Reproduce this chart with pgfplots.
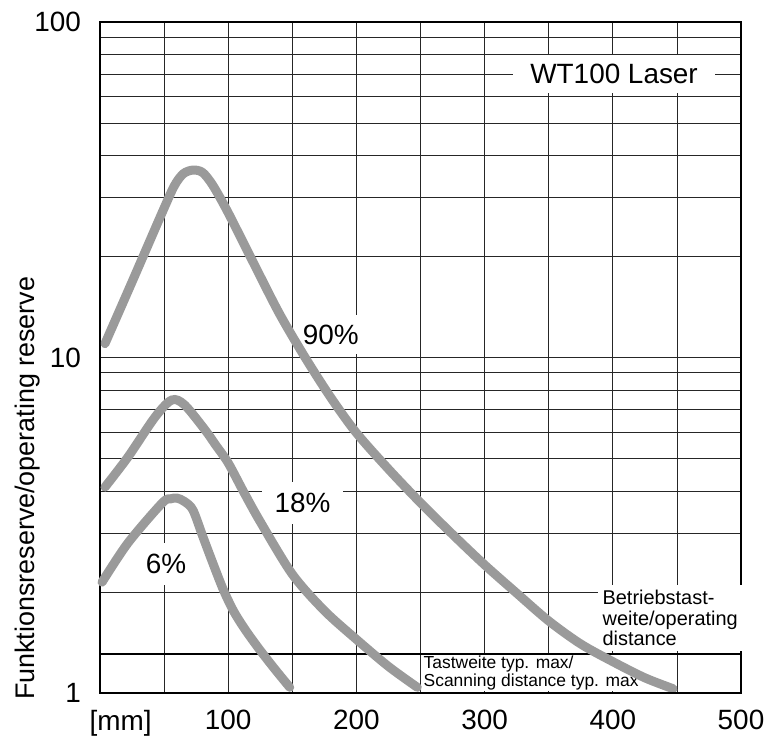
\documentclass[border=0pt]{standalone}
\usepackage{pgfplots}
\pgfplotsset{compat=1.18}
\usepackage{fontspec}
\setmainfont{Liberation Sans}
\definecolor{curve}{HTML}{9A9A9A}
\newcommand{\bigfont}{\fontsize{28}{32}\selectfont}

\begin{document}
\begin{tikzpicture}
\begin{axis}[
  name=ax,
  scale only axis, width=641bp, height=671bp,
  ymode=log, xmin=0, xmax=500, ymin=1, ymax=100,
  xtick={100,200,300,400,500},
  minor xtick={50,150,250,350,450},
  ytick={1,10,100}, yticklabels={1,10,100},
  minor ytick={2,3,4,5,6,7,8,9,20,30,40,50,60,70,80,90},
  grid=both,
  major grid style={black!85, line width=0.8bp},
  minor grid style={black!85, line width=0.8bp},
  major tick length=0pt, minor tick length=0pt,
  axis line style={black, line width=1.4bp},
  /pgf/number format/assume math mode=true,
  tick label style={font=\bigfont, inner sep=0pt},
  xticklabel style={anchor=north, yshift=-17bp},
  yticklabel style={anchor=east, xshift=-19bp},
  clip=false,
]
% labels with white boxes, drawn under the curves
\node[fill=white, inner xsep=17bp, inner ysep=9bp, font=\bigfont] at (axis cs:401,70) {WT100 Laser};
\node[fill=white, inner xsep=9bp, inner ysep=10bp, font=\bigfont] at (axis cs:180,11.7) {90\%};
\node[fill=white, inner xsep=13bp, inner ysep=11bp, font=\bigfont] at (axis cs:158,3.68) {18\%};
\node[fill=white, inner xsep=8bp, inner ysep=11bp, font=\bigfont] at (axis cs:51.5,2.42) {6\%};
\node[fill=white, anchor=west, inner xsep=5bp, inner ysep=5bp, align=left,
      font=\fontsize{20}{20.5}\selectfont] at (axis cs:388,1.673)
      {Betriebstast-\\weite/operating\\distance};
\node[fill=white, anchor=west, inner xsep=3bp, inner ysep=1bp, align=left,
      font=\fontsize{17.5}{18}\selectfont] at (axis cs:250,1.147)
      {Tastweite typ. max/\\Scanning distance typ. max};

% Tastweite typ. max
\addplot[black, line width=2.2bp] coordinates {(0,1.31) (500,1.31)};

% 90 %
\addplot[curve, line width=9bp, line cap=round, smooth] coordinates {
  (3.9,11.0) (25,16.8) (48.4,27.0) (58,32.5) (65,35.3) (72.5,36.2)
  (80,35.6) (88,32.6) (100,27.0) (120,19.05) (140,13.5) (160,10.0)
  (180,7.6) (200,5.96) (225,4.65) (250,3.69) (275,2.97) (300,2.41)
  (325,1.985) (350,1.64) (375,1.40) (400,1.24) (425,1.11) (447,1.03)};
% 18 %
\addplot[curve, line width=9bp, line cap=round, smooth] coordinates {
  (3.9,4.11) (21.8,5.05) (43,6.65) (56,7.47) (66,7.22) (82,6.08)
  (90,5.5) (100,4.85) (112,3.98) (125,3.24) (150,2.26) (175,1.76)
  (200,1.445) (225,1.20) (247.5,1.04)};
% 6 %
\addplot[curve, line width=9bp, line cap=round, smooth] coordinates {
  (1.6,2.14) (21.8,2.80) (48.4,3.68) (55,3.79) (60,3.81) (66,3.72)
  (72.5,3.51) (80.3,2.92) (88,2.44) (96,2.04) (104,1.76) (113,1.55)
  (124,1.355) (136,1.183) (148,1.04)};

\draw[black, line width=2.2bp] (rel axis cs:0,0) -- (rel axis cs:1,0);
\node[font=\bigfont, anchor=north, inner sep=0pt, yshift=-17bp] at (axis cs:16,1) {[mm]};
\end{axis}
\node[rotate=90, anchor=west, inner sep=0pt, font=\fontsize{27}{30}\selectfont]
  at ([xshift=-72bp,yshift=-7bp]ax.south west) {Funktionsreserve/operating reserve};
\pgfresetboundingbox
\path[use as bounding box] ([xshift=-100bp,yshift=-47bp]ax.south west)
  rectangle ([xshift=32bp,yshift=22bp]ax.north east);
\end{tikzpicture}
\end{document}
